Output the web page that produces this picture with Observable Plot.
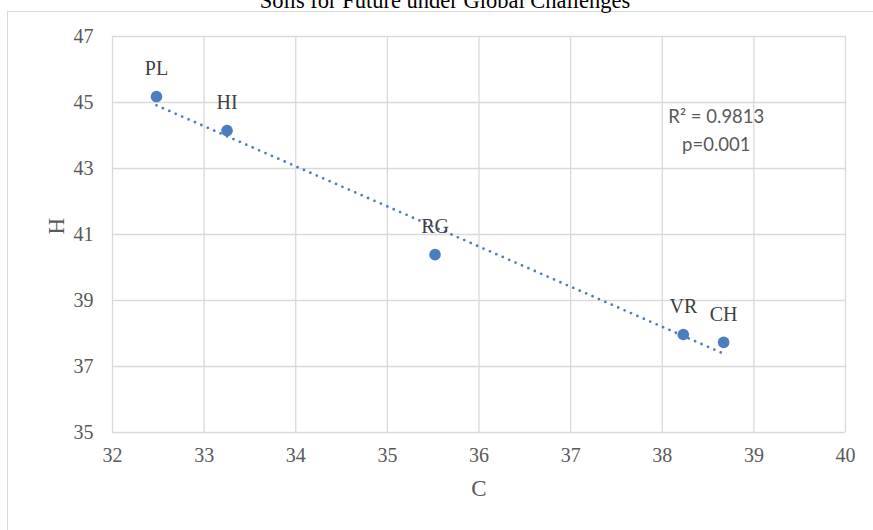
<!DOCTYPE html>
<html>
<head>
<meta charset="utf-8">
<script src="https://cdn.jsdelivr.net/npm/d3@7"></script>
<script src="https://cdn.jsdelivr.net/npm/@observablehq/plot@0.6"></script>
<style>
  html, body { margin: 0; padding: 0; background: #fff; }
  #wrap { position: relative; width: 873px; height: 530px; overflow: hidden; background: #fff; }
  #title { position: absolute; left: 0; width: 890px; top: -11px; text-align: center;
           font-family: "Liberation Serif", serif; font-size: 22.5px; color: #000; line-height: 24px; white-space: nowrap; }
  #frame { position: absolute; left: 7px; top: 11px; width: 900px; height: 600px;
           border-left: 1.5px solid #d9d9d9; border-top: 1.5px solid #d9d9d9; }
  #chart { position: absolute; left: 0; top: 0; }
</style>
</head>
<body>
<div id="wrap">
  <div id="frame"></div>
  <div id="title">Soils for Future under Global Challenges</div>
  <div id="chart"></div>
</div>
<script>
const sites = ["PL", "HI", "RG", "VR", "CH"];
const cValues = [32.48, 33.25, 35.52, 38.23, 38.67];
const hValues = [45.18, 44.15, 40.39, 37.97, 37.73];
const xTicks = [32, 33, 34, 35, 36, 37, 38, 39, 40];
const yTicks = [35, 37, 39, 41, 43, 45, 47];
const statsText = ["R\u00B2 = 0.9813", "p=0.001"];

const data = sites.map((s, i) => ({site: s, C: cValues[i], H: hValues[i]}));
const blue = "#4a7ebf";
const serif = "Liberation Serif, Times New Roman, serif";

const chart = Plot.plot({
  width: 873,
  height: 530,
  marginLeft: 112,
  marginRight: 28,
  marginTop: 36,
  marginBottom: 98,
  style: {background: "transparent", fontFamily: serif, fontSize: "20px", color: "#595959", overflow: "visible"},
  x: {domain: [32, 40], ticks: xTicks, label: null},
  y: {domain: [35, 47], ticks: yTicks, label: null},
  marks: [
    Plot.gridX(xTicks, {stroke: "#d9d9d9", strokeOpacity: 1, strokeWidth: 1.3}),
    Plot.gridY(yTicks, {stroke: "#d9d9d9", strokeOpacity: 1, strokeWidth: 1.3}),
    Plot.axisX(xTicks, {tickSize: 0, tickPadding: 15, fontSize: 20, fill: "#595959"}),
    Plot.axisY(yTicks, {tickSize: 0, tickPadding: 19, fontSize: 20, fill: "#595959"}),
    Plot.text(["C"], {frameAnchor: "bottom", dy: 63, fontSize: 23, fill: "#595959", fontFamily: serif}),
    Plot.text(["H"], {frameAnchor: "left", dx: -56, rotate: -90, fontSize: 23, fill: "#595959", fontFamily: serif}),
    Plot.linearRegressionY(data, {x: "C", y: "H", ci: 0, stroke: blue, strokeWidth: 2.8,
      strokeDasharray: "0 7", strokeLinecap: "round"}),
    Plot.dot(data, {x: "C", y: "H", r: 5.8, fill: blue, stroke: "none"}),
    Plot.text(data, {x: "C", y: "H", text: "site", dy: -28, fontSize: 20, fill: "#404040", fontFamily: serif}),
    Plot.text([statsText[0]], {x: 38.59, y: 44.55, fontSize: 18.5, fill: "#595959", fontFamily: "Lato, sans-serif"}),
    Plot.text([statsText[1]], {x: 38.59, y: 43.7, fontSize: 18.5, fill: "#595959", fontFamily: "Lato, sans-serif"})
  ]
});
document.getElementById("chart").appendChild(chart);
</script>
</body>
</html>
